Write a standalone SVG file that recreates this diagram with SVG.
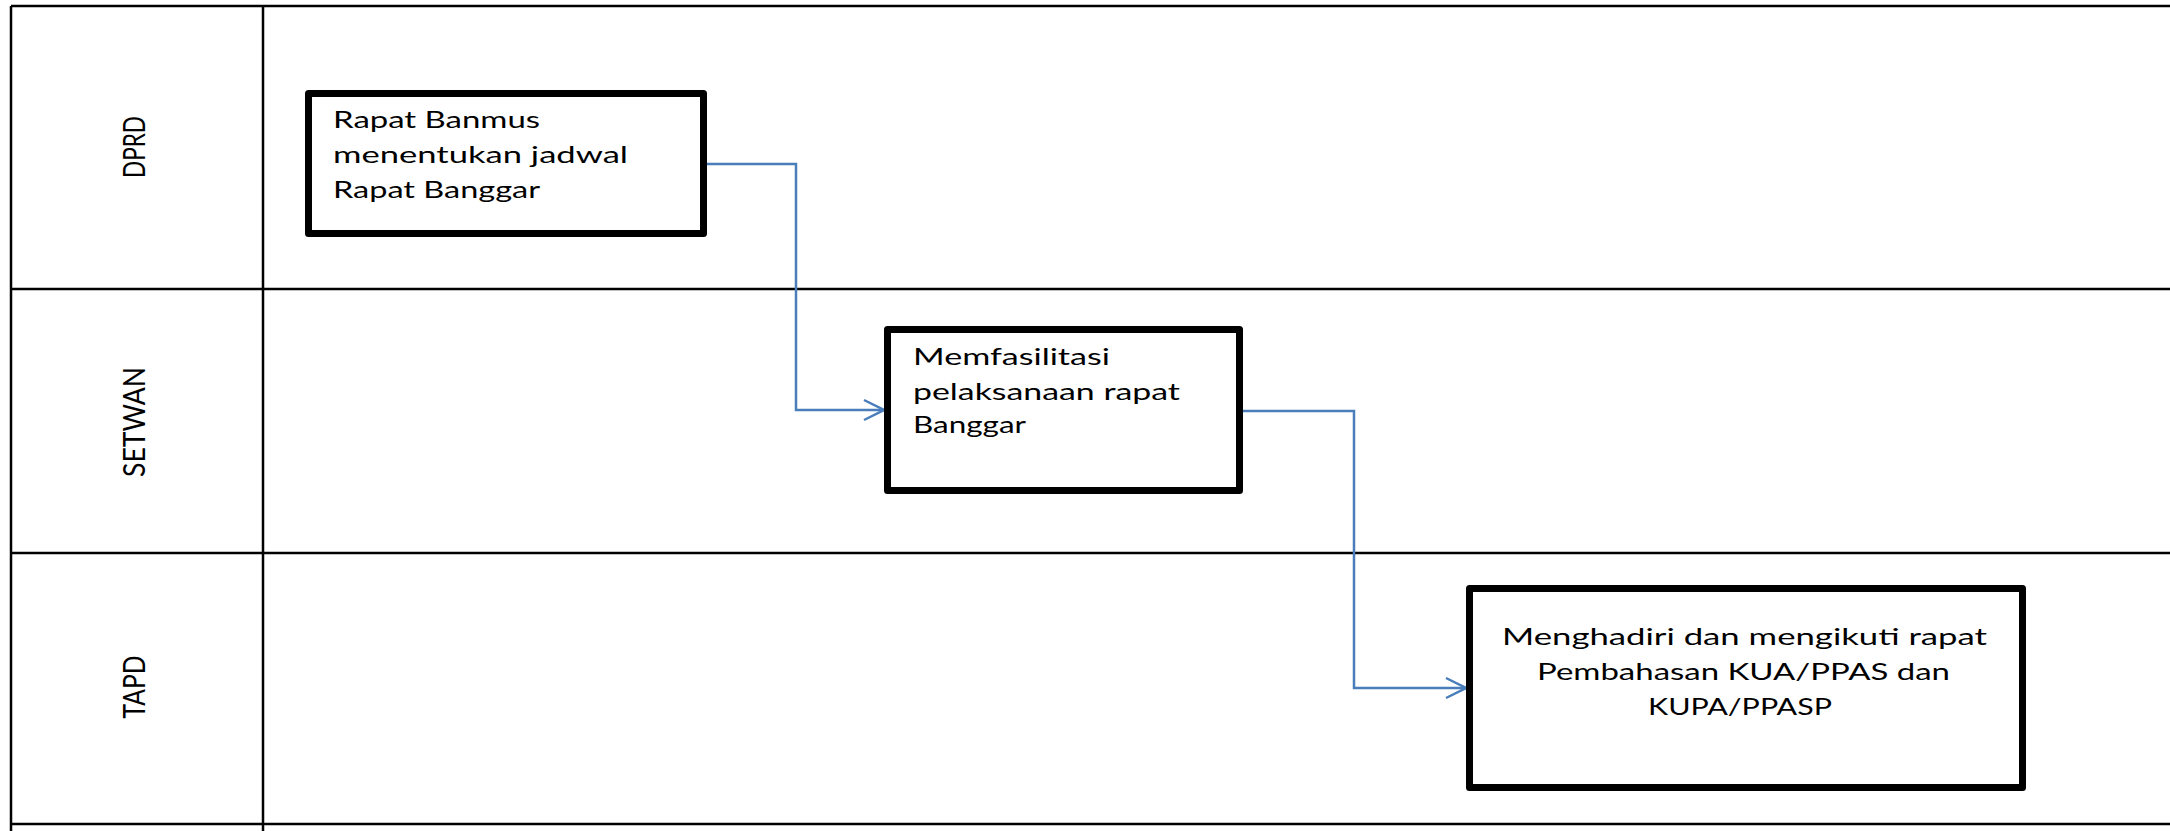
<svg xmlns="http://www.w3.org/2000/svg" width="2170" height="831" viewBox="0 0 2170 831">
<style>
.grid{stroke:#000;stroke-width:2.5;fill:none}
.box{fill:#fff;stroke:#000;stroke-width:7;stroke-linejoin:round}
.t{font-family:Lato,"Open Sans","Liberation Sans",sans-serif;font-size:23px;fill:#000}
.lane{font-family:Lato,"Open Sans","Liberation Sans",sans-serif;font-size:21px;fill:#000;text-anchor:middle}
.conn{stroke:#4A7EBB;stroke-width:2.5;fill:none}
</style>
<defs>
<marker id="arr" viewBox="0 0 22 24" refX="21" refY="12" markerWidth="22" markerHeight="24" markerUnits="userSpaceOnUse" orient="auto">
<path d="M1 2 L21 12 L1 22" fill="none" stroke="#4A7EBB" stroke-width="2.5"/>
</marker>
</defs>
<rect width="2170" height="831" fill="#fff"/>
<g id="lanes">
<path class="grid" d="M11 6 V831 M263 6 V831 M11 6 H2170 M11 289 H2170 M11 553 H2170 M11 824 H2170"/>
<text class="lane" transform="translate(145,147) scale(1.5,1) rotate(-90)" textLength="62" lengthAdjust="spacingAndGlyphs">DPRD</text>
<text class="lane" transform="translate(145,422) scale(1.5,1) rotate(-90)" textLength="110" lengthAdjust="spacingAndGlyphs">SETWAN</text>
<text class="lane" transform="translate(145,687) scale(1.5,1) rotate(-90)" textLength="63" lengthAdjust="spacingAndGlyphs">TAPD</text>
</g>
<g id="connectors">
<path class="conn" d="M707 164 H796 V410 H884" marker-end="url(#arr)"/>
<path class="conn" d="M1243 411 H1354 V688 H1466" marker-end="url(#arr)"/>
</g>
<g id="node1">
<rect class="box" x="308.5" y="93.5" width="395" height="140"/>
<text class="t" x="333" y="128" textLength="207" lengthAdjust="spacingAndGlyphs">Rapat Banmus</text>
<text class="t" x="333" y="163" textLength="295" lengthAdjust="spacingAndGlyphs">menentukan jadwal</text>
<text class="t" x="333" y="198" textLength="207" lengthAdjust="spacingAndGlyphs">Rapat Banggar</text>
</g>
<g id="node2">
<rect class="box" x="887.5" y="329.5" width="352" height="161"/>
<text class="t" x="913" y="365" textLength="197" lengthAdjust="spacingAndGlyphs">Memfasilitasi</text>
<text class="t" x="913" y="400" textLength="267" lengthAdjust="spacingAndGlyphs">pelaksanaan rapat</text>
<text class="t" x="913" y="433" textLength="113" lengthAdjust="spacingAndGlyphs">Banggar</text>
</g>
<g id="node3">
<rect class="box" x="1469.5" y="588.5" width="553" height="199"/>
<text class="t" x="1502" y="645" textLength="485" lengthAdjust="spacingAndGlyphs">Menghadiri dan mengikuti rapat</text>
<text class="t" x="1537" y="680" textLength="413" lengthAdjust="spacingAndGlyphs">Pembahasan KUA/PPAS dan</text>
<text class="t" x="1648" y="715" textLength="184" lengthAdjust="spacingAndGlyphs">KUPA/PPASP</text>
</g>
</svg>
